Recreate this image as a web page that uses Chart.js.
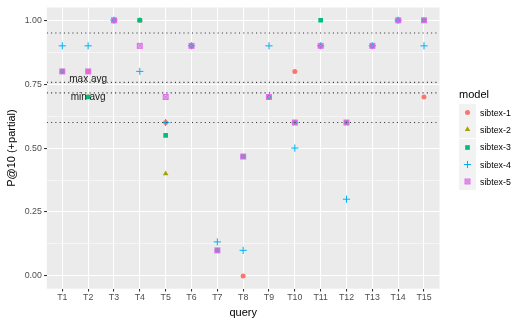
<!DOCTYPE html>
<html><head><meta charset="utf-8">
<script src="https://cdn.jsdelivr.net/npm/chart.js@4.4.0/dist/chart.umd.min.js"></script>
<style>
html,body{margin:0;padding:0;background:#fff;}
#wrap{position:relative;width:520px;height:323px;overflow:hidden;}
#c{position:absolute;left:0;top:0;}
#legend{position:absolute;left:459px;top:87px;font-family:"Liberation Sans",Arial,sans-serif;color:#000;}
#legend .title{font-size:11px;line-height:14px;height:17px;}
#legend .row{display:flex;align-items:center;height:17.3px;}
#legend .row canvas{display:block;}
#legend .row span{font-size:8.8px;margin-left:4px;color:#000;}
</style></head><body>
<div id="wrap"><canvas id="c" width="520" height="323"></canvas><div id="legend"></div></div>
<script>
// ---- data ----
const categories = ['T1','T2','T3','T4','T5','T6','T7','T8','T9','T10','T11','T12','T13','T14','T15'];
const models = ['sibtex-1','sibtex-2','sibtex-3','sibtex-4','sibtex-5'];
const sibtex1 = [0.8, 0.8, 1.0, 1.0, 0.6, 0.9, 0.1,   0.0,   0.7, 0.8, 0.9, 0.6, 0.9, 1.0, 0.7];
const sibtex2 = [0.8, 0.7, 1.0, 1.0, 0.4, 0.9, 0.1,   0.467, 0.7, 0.6, 0.9, 0.6, 0.9, 1.0, 1.0];
const sibtex3 = [0.8, 0.7, 1.0, 1.0, 0.55,0.9, 0.1,   0.467, 0.7, 0.6, 1.0, 0.6, 0.9, 1.0, 1.0];
const sibtex4 = [0.9, 0.9, 1.0, 0.8, 0.6, 0.9, 0.133, 0.1,   0.9, 0.5, 0.9, 0.3, 0.9, 1.0, 0.9];
const sibtex5 = [0.8, 0.8, 1.0, 0.9, 0.7, 0.9, 0.1,   0.467, 0.7, 0.6, 0.9, 0.6, 0.9, 1.0, 1.0];
const refLines = [0.95, 0.757, 0.716, 0.60];
const refLabels = ['max avg', 'min avg'];
const refLabelValues = [0.77, 0.70];
const refLabelCategory = 'T2';
const yTickValues = [0, 0.25, 0.5, 0.75, 1];
const yMinorValues = [0.125, 0.375, 0.625, 0.875];

// ---- styles ----
const colors = ['#F8766D', '#A3A500', '#00BF7D', '#00B0F6', '#E76BF3'];
function squareCross(color){
  const cv = document.createElement('canvas');
  cv.width = 8; cv.height = 8;
  const g = cv.getContext('2d');
  g.fillStyle = 'rgba(170,110,190,0.45)';
  g.fillRect(1, 1, 6, 6);
  g.strokeStyle = color; g.lineWidth = 0.9;
  g.strokeRect(1.5, 1.5, 5, 5);
  g.beginPath(); g.moveTo(1.5,1.5); g.lineTo(6.5,6.5); g.moveTo(6.5,1.5); g.lineTo(1.5,6.5); g.stroke();
  return cv;
}
const sqx = squareCross(colors[4]);
const pointStyles = ['circle', 'triangle', 'rect', 'cross', sqx];
const radii = [2.5, 3.2, 3.3, 3.6, 4];
const seriesValues = [sibtex1, sibtex2, sibtex3, sibtex4, sibtex5];

const pointSets = models.map((m, i) => ({
  label: m,
  data: seriesValues[i].map((v, k) => ({x: k + 1, y: v})),
  pointStyle: pointStyles[i],
  pointRadius: radii[i],
  pointBackgroundColor: colors[i],
  pointBorderColor: colors[i],
  pointBorderWidth: i === 3 ? 1 : 0,
  showLine: false,
  order: 5 - i
}));
const xMin = 0.4, xMax = categories.length + 0.6;
const lineSets = refLines.map(v => ({
  label: 'ref',
  data: [{x: xMin, y: v}, {x: xMax, y: v}],
  showLine: true,
  borderColor: '#333333',
  borderWidth: 1.07,
  borderDash: [1.07, 3.2],
  pointRadius: 0,
  order: 0
}));

const panelBg = {
  id: 'panelBg',
  beforeDraw(chart){
    const {ctx, chartArea: a} = chart;
    ctx.save(); ctx.fillStyle = '#EBEBEB';
    ctx.fillRect(a.left, a.top, a.right - a.left, a.bottom - a.top);
    ctx.restore();
  }
};
const refText = {
  id: 'refText',
  afterDatasetsDraw(chart){
    const {ctx, scales} = chart;
    ctx.save();
    ctx.font = '10px "Liberation Sans", Arial, sans-serif';
    ctx.fillStyle = '#1a1a1a';
    ctx.textAlign = 'center'; ctx.textBaseline = 'middle';
    const xi = categories.indexOf(refLabelCategory) + 1;
    refLabels.forEach((t, i) => {
      ctx.fillText(t, scales.x.getPixelForValue(xi), scales.y.getPixelForValue(refLabelValues[i]));
    });
    ctx.restore();
  }
};
const isMajor = v => yTickValues.some(t => Math.abs(t - v) < 1e-9);
const font = {family: '"Liberation Sans", Arial, sans-serif'};

new Chart(document.getElementById('c'), {
  type: 'scatter',
  data: {datasets: [...pointSets, ...lineSets]},
  options: {
    responsive: false, animation: false, devicePixelRatio: 1, events: [],
    layout: {padding: {top: 3, right: 80.5, left: 0, bottom: 0}},
    plugins: {legend: {display: false}, tooltip: {enabled: false}},
    scales: {
      x: {
        type: 'linear', min: xMin, max: xMax,
        afterBuildTicks: s => { s.ticks = categories.map((c, i) => ({value: i + 1})); },
        afterFit: s => { s.height = 34.3; },
        ticks: {callback: v => categories[Math.round(v) - 1], color: '#4D4D4D', font: {...font, size: 8.8}, padding: 1, maxRotation: 0, autoSkip: false},
        grid: {color: '#FFFFFF', lineWidth: 1.07, tickColor: '#333333', tickLength: 2.75, tickWidth: 1.07},
        border: {display: false},
        title: {display: true, text: 'query', color: '#000', font: {...font, size: 11}, padding: {top: 0, bottom: 3.4}}
      },
      y: {
        min: -0.05, max: 1.05,
        afterBuildTicks: s => { s.ticks = [...yTickValues, ...yMinorValues].sort((a,b)=>a-b).map(v => ({value: v})); },
        afterFit: s => { s.width = 46.8; },
        ticks: {callback: v => isMajor(v) ? v.toFixed(2) : '', color: '#4D4D4D', font: {...font, size: 8.8}, padding: 2.2},
        grid: {
          color: '#FFFFFF',
          lineWidth: c => isMajor(c.tick.value) ? 1.07 : 0.53,
          tickColor: c => isMajor(c.tick.value) ? '#333333' : 'rgba(0,0,0,0)',
          tickLength: 2.75, tickWidth: 1.07
        },
        border: {display: false},
        title: {display: true, text: 'P@10 (+partial)', color: '#000', font: {...font, size: 11}, padding: {top: 5.4, bottom: 0}}
      }
    }
  },
  plugins: [panelBg, refText]
});

// ---- legend (HTML) ----
const lg = document.getElementById('legend');
const tt = document.createElement('div'); tt.className = 'title'; tt.textContent = 'model'; lg.appendChild(tt);
models.forEach((m, i) => {
  const row = document.createElement('div'); row.className = 'row';
  const k = document.createElement('canvas'); k.width = 17; k.height = 17;
  const g = k.getContext('2d');
  g.fillStyle = '#F2F2F2'; g.fillRect(0, 0, 17, 17);
  g.fillStyle = colors[i]; g.strokeStyle = colors[i]; g.lineWidth = 1;
  Chart.helpers.drawPoint(g, {pointStyle: pointStyles[i], radius: radii[i], borderWidth: i === 3 ? 1 : 0, rotation: 0}, 8.5, 8.5);
  row.appendChild(k);
  const s = document.createElement('span'); s.textContent = m; row.appendChild(s);
  lg.appendChild(row);
});
</script>
</body></html>
